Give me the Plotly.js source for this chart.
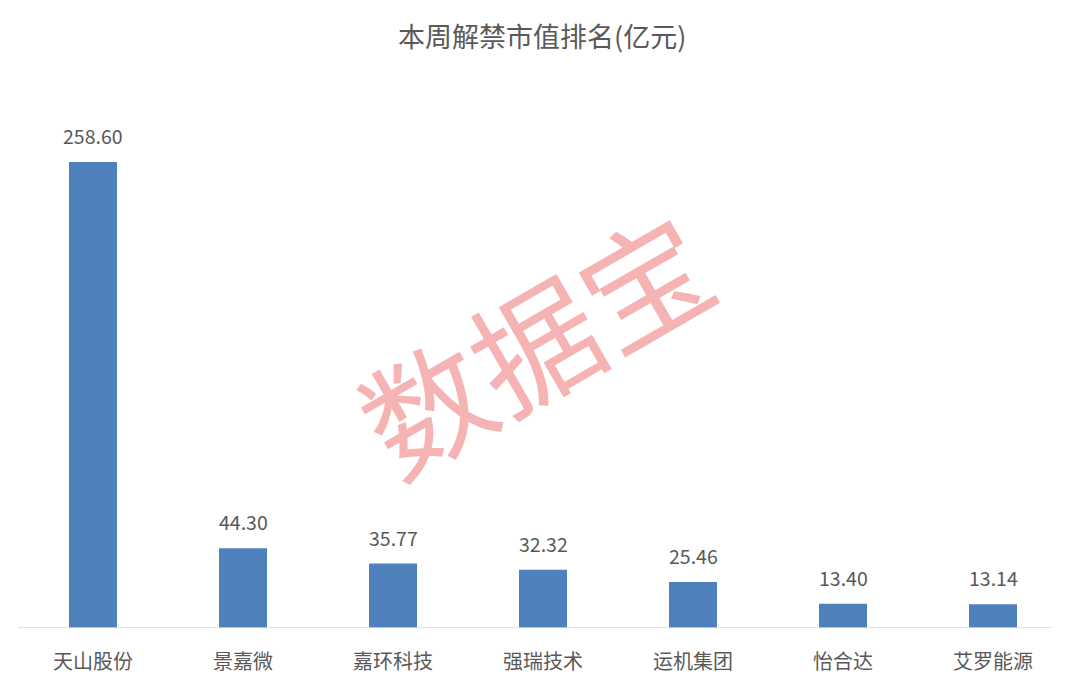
<!DOCTYPE html>
<html>
<head>
<meta charset="utf-8">
<script src="https://cdn.plot.ly/plotly-3.0.1.min.js"></script>
<style>html,body{margin:0;padding:0;background:#fff;}#chart{width:1080px;height:683px;}</style>
</head>
<body>
<div id="chart"></div>
<script>
const categories = ["天山股份", "景嘉微", "嘉环科技", "强瑞技术", "运机集团", "怡合达", "艾罗能源"];
const values = [258.60, 44.30, 35.77, 32.32, 25.46, 13.40, 13.14];
const labels = ["258.60", "44.30", "35.77", "32.32", "25.46", "13.40", "13.14"];
const titleText = "本周解禁市值排名(亿元)";
const watermark = "数据宝";

const FONT = "'Microsoft YaHei', 'Noto Sans CJK SC', sans-serif";
const GREY = "#595959";

const trace = {
  type: "bar",
  x: categories,
  y: values,
  width: 0.32,
  marker: {color: "#4F81BD"},
  hoverinfo: "none"
};

const annotations = categories.map((c, i) => ({
  x: c, y: values[i], xref: "x", yref: "y",
  text: labels[i], showarrow: false, yanchor: "bottom", yshift: 10,
  font: {family: FONT, size: 19.5, color: GREY}
}));
annotations.push({
  x: 0.49, y: 0.545, xref: "paper", yref: "paper",
  text: watermark, showarrow: false, textangle: -30,
  font: {family: FONT, size: 126, color: "#F5B3B4"}
});

const layout = {
  width: 1080, height: 683,
  margin: {l: 18, r: 12, t: 100, b: 55},
  paper_bgcolor: "#fff", plot_bgcolor: "#fff",
  title: {text: titleText, x: 0.502, xanchor: "center", y: 0.945, yanchor: "middle",
          font: {family: FONT, size: 27, color: GREY}},
  xaxis: {type: "category", showgrid: false, zeroline: false, showline: false,
          ticks: "", ticklabelstandoff: 20,
          tickfont: {family: FONT, size: 20, color: GREY}},
  yaxis: {range: [0, 293], visible: false, showgrid: false, zeroline: false},
  shapes: [{type: "line", xref: "paper", yref: "y", x0: 0, x1: 0.985, y0: 0, y1: 0,
            line: {color: "#D9D9D9", width: 1.5}}],
  annotations: annotations,
  showlegend: false
};

Plotly.newPlot("chart", [trace], layout, {displayModeBar: false, staticPlot: true});
</script>
</body>
</html>
